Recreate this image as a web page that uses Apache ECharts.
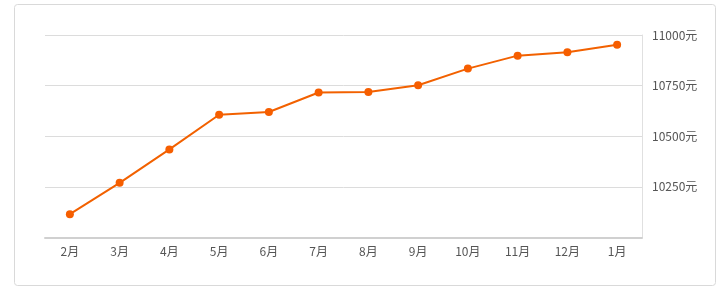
<!DOCTYPE html>
<html><head><meta charset="utf-8">
<script src="https://cdn.jsdelivr.net/npm/echarts@6/dist/echarts.min.js"></script>
<style>html,body{margin:0;padding:0;background:#fff;}#c{width:721px;height:308px;}</style>
</head><body><div id="c"></div>
<script>
const categories = ['2月','3月','4月','5月','6月','7月','8月','9月','10月','11月','12月','1月'];
const prices = [10115, 10270, 10435, 10606, 10620, 10716, 10718, 10752, 10834, 10898, 10915, 10952];
const yMin = 10000, yMax = 11000, yStep = 250;
const unit = '元';

const chart = echarts.init(document.getElementById('c'));
chart.setOption({
  animation: false,
  graphic: [{
    type: 'rect', silent: true, z: -1,
    shape: { x: 14.5, y: 4.5, width: 701, height: 281, r: 3 },
    style: { fill: '#fff', stroke: '#d9d9d9', lineWidth: 1 }
  }],
  grid: { left: 45, right: 79, top: 35, bottom: 70.5 },
  xAxis: {
    type: 'category', data: categories, boundaryGap: true,
    axisLine: { lineStyle: { color: '#d0d0d0', width: 2 } },
    axisTick: { alignWithLabel: true, length: 4, lineStyle: { color: '#d0d0d0' } },
    axisLabel: { color: '#555', fontSize: 12, margin: 8, fontFamily: '"Noto Sans CJK SC", sans-serif' }
  },
  yAxis: {
    type: 'value', position: 'right', min: yMin, max: yMax, interval: yStep,
    axisLine: { show: true, lineStyle: { color: '#e0e0e0', width: 1 } },
    axisTick: { show: false },
    splitLine: { lineStyle: { color: '#dcdcdc' } },
    axisLabel: { color: '#555', fontSize: 12, margin: 10, showMinLabel: false,
      fontFamily: '"Noto Sans CJK SC", sans-serif',
      formatter: v => v + unit }
  },
  series: [{
    type: 'line', data: prices,
    symbol: 'circle', symbolSize: 8,
    lineStyle: { color: '#f26100', width: 2 },
    itemStyle: { color: '#f65e00' }
  }]
});
</script></body></html>
